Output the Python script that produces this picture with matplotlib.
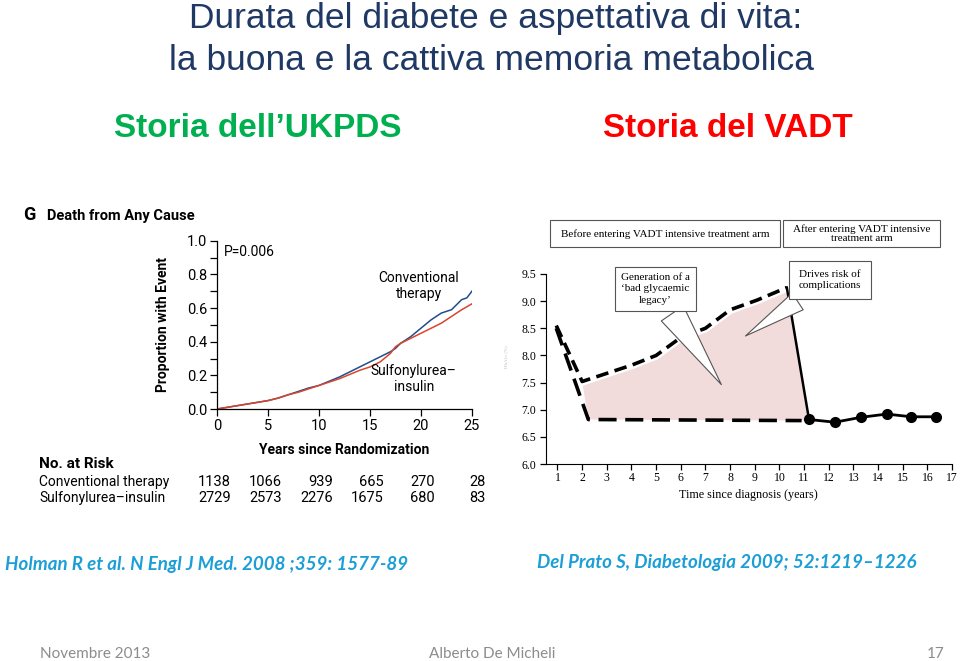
import numpy as np
import matplotlib as mpl
mpl.use('Agg')
import matplotlib.pyplot as plt
from matplotlib.ticker import MultipleLocator
from matplotlib.patches import Rectangle

# --- UKPDS: death from any cause ---
years_conv = [0, 1, 2, 3, 4, 5, 6, 7, 8, 9, 10, 11, 12, 13, 14, 15, 16, 17, 17.5,
              18, 19, 20, 21, 22, 23, 23.5, 24, 24.5, 25]
prop_conv = [0, 0.01, 0.02, 0.03, 0.04, 0.05, 0.065, 0.085, 0.105, 0.125, 0.14, 0.165,
             0.19, 0.22, 0.25, 0.28, 0.31, 0.34, 0.36, 0.39, 0.43, 0.48, 0.53, 0.57,
             0.59, 0.62, 0.65, 0.66, 0.70]
years_su = [0, 1, 2, 3, 4, 5, 6, 7, 8, 9, 10, 11, 12, 13, 14, 15, 16, 17, 17.5,
            18, 19, 20, 21, 22, 23, 24, 25]
prop_su = [0, 0.01, 0.02, 0.03, 0.04, 0.05, 0.065, 0.085, 0.10, 0.12, 0.14, 0.16,
           0.18, 0.205, 0.23, 0.25, 0.28, 0.33, 0.37, 0.39, 0.42, 0.45, 0.48, 0.51,
           0.55, 0.59, 0.625]
risk_years = [0, 5, 10, 15, 20, 25]
risk_conv = [1138, 1066, 939, 665, 270, 28]
risk_su = [2729, 2573, 2276, 1675, 680, 83]

# --- VADT: HbA1c history ---
bad_x = [0.95, 2, 4, 5, 6, 7, 8, 9.1, 10.3]
bad_y = [8.55, 7.52, 7.82, 8.0, 8.33, 8.5, 8.84, 9.02, 9.25]
drop_x = [10.3, 11.2]
drop_y = [9.25, 6.82]
good_x = [0.95, 2.25, 10.9]
good_y = [8.5, 6.82, 6.8]
vadt_x = [11.2, 12.25, 13.3, 14.35, 15.35, 16.35]
vadt_y = [6.82, 6.77, 6.86, 6.92, 6.87, 6.87]

fig = plt.figure(figsize=(9.6, 6.61), dpi=100)
fig.patch.set_facecolor('white')

# titles
navy = '#1f3864'
fig.text(0.516, 0.972, 'Durata del diabete e aspettativa di vita:', ha='center', va='center',
         fontsize=25.5, color=navy, family='Liberation Sans')
fig.text(0.512, 0.908, 'la buona e la cattiva memoria metabolica', ha='center', va='center',
         fontsize=25.5, color=navy, family='Liberation Sans')
fig.text(0.268, 0.805, 'Storia dell\u2019UKPDS', ha='center', va='center',
         fontsize=24, color='#00b050', weight='bold', family='Liberation Sans')
fig.text(0.758, 0.805, 'Storia del VADT', ha='center', va='center',
         fontsize=24, color='#ff0000', weight='bold', family='Liberation Sans')

# ---------------- left panel ----------------
sans = 'Roboto'
ax1 = fig.add_axes([0.226, 0.3812, 0.2656, 0.2547])
ax1.plot(years_conv, prop_conv, color='#1f4e8c', lw=1.1)
ax1.plot(years_su, prop_su, color='#d9452b', lw=1.1)
ax1.set_xlim(0, 25)
ax1.set_ylim(0, 1.0)
ax1.spines['top'].set_visible(False)
ax1.spines['right'].set_visible(False)
for s in ['left', 'bottom']:
    ax1.spines[s].set_linewidth(0.9)
ax1.set_xticks(risk_years)
ax1.yaxis.set_major_locator(MultipleLocator(0.2))
ax1.yaxis.set_minor_locator(MultipleLocator(0.1))
ax1.yaxis.set_major_formatter(mpl.ticker.FormatStrFormatter('%.1f'))
ax1.tick_params(axis='both', which='major', length=5, width=0.9, labelsize=10.5, pad=2)
ax1.tick_params(axis='y', which='minor', length=5, width=0.9)
for lab in ax1.get_xticklabels() + ax1.get_yticklabels():
    lab.set_family(sans)
ax1.text(0.5, -0.243, 'Years since Randomization', transform=ax1.transAxes, fontsize=10,
         weight='bold', ha='center', va='center', family=sans)
ax1.text(-0.212, 0.5, 'Proportion with Event', transform=ax1.transAxes, fontsize=10,
         weight='bold', ha='center', va='center', rotation=90, family=sans)
ax1.text(0.7, 0.93, 'P=0.006', fontsize=10, va='center', family=sans)
ax1.text(19.8, 0.73, 'Conventional\ntherapy', fontsize=10, ha='center', va='center',
         family=sans, linespacing=1.15)
ax1.text(19.3, 0.18, 'Sulfonylurea\u2013\ninsulin', fontsize=10, ha='center', va='center',
         family=sans, linespacing=1.15)

fig.text(0.024, 0.674, 'G', fontsize=13, weight='bold', va='center', family=sans)
fig.text(0.049, 0.673, 'Death from Any Cause', fontsize=10.5, weight='bold', va='center', family=sans)
fig.text(0.041, 0.298, 'No. at Risk', fontsize=11, weight='bold', va='center', family=sans)
fig.text(0.041, 0.271, 'Conventional therapy', fontsize=10, va='center', family=sans)
fig.text(0.041, 0.247, 'Sulfonylurea\u2013insulin', fontsize=10, va='center', family=sans)
tr = mpl.transforms.blended_transform_factory(ax1.transData, fig.transFigure)
for t, a, b in zip(risk_years, risk_conv, risk_su):
    ax1.text(t + 1.35, 0.271, str(a), transform=tr, ha='right', va='center', fontsize=10.5, family=sans)
    ax1.text(t + 1.35, 0.247, str(b), transform=tr, ha='right', va='center', fontsize=10.5, family=sans)

# ---------------- right panel ----------------
serif = 'Liberation Serif'
ax2 = fig.add_axes([0.5684, 0.298, 0.4233, 0.2875])
poly_x = bad_x[1:] + drop_x[1:] + good_x[::-1][:-1]
poly_y = bad_y[1:] + drop_y[1:] + good_y[::-1][:-1]
ax2.fill(poly_x, poly_y, color='#f2dcdb', lw=0, zorder=1)
ax2.plot(bad_x, bad_y, color='white', lw=6, zorder=2, solid_capstyle='butt')
ax2.plot(bad_x, bad_y, color='black', lw=2.6, ls=(0, (3.5, 1.8)), zorder=3)
ax2.plot(good_x, good_y, color='black', lw=2.6, ls=(0, (5, 2.4)), zorder=3)
ax2.plot(drop_x, drop_y, color='black', lw=1.8, zorder=3)
ax2.plot(vadt_x, vadt_y, color='black', lw=2, marker='o', ms=7, zorder=4)
ax2.set_xlim(0.52, 17)
ax2.set_ylim(6.0, 9.5)
ax2.spines['top'].set_visible(False)
ax2.spines['right'].set_visible(False)
ax2.set_xticks(range(1, 18))
ax2.set_yticks(np.arange(6.0, 9.51, 0.5))
ax2.yaxis.set_major_formatter(mpl.ticker.FormatStrFormatter('%.1f'))
ax2.tick_params(axis='both', length=4, width=0.9, labelsize=8.5, pad=3)
ax2.tick_params(axis='x', pad=2)
for lab in ax2.get_xticklabels() + ax2.get_yticklabels():
    lab.set_family(serif)
ax2.set_xlabel('Time since diagnosis (years)', fontsize=8.7, family=serif, labelpad=3)
fig.text(0.527, 0.46, 'HbA1c (%)', rotation=90, fontsize=3.5, color='#bbbbbb',
         ha='center', va='center', family=serif)

# header boxes
for x0, w in [(0.5729, 0.2396), (0.8156, 0.1635)]:
    fig.patches.append(Rectangle((x0, 0.6263), w, 0.0408, transform=fig.transFigure,
                                 fc='white', ec='#555555', lw=0.8))
fig.text(0.6927, 0.6465, 'Before entering VADT intensive treatment arm', ha='center', va='center',
         fontsize=8, family=serif)
fig.text(0.8974, 0.6465, 'After entering VADT intensive\ntreatment arm', ha='center', va='center',
         fontsize=8, family=serif, linespacing=1.05)

box = dict(boxstyle='square,pad=0.55', fc='white', ec='#555555', lw=0.8)
ax2.annotate('Generation of a\n\u2018bad glycaemic\nlegacy\u2019', xy=(7.71, 7.42), xytext=(0.6828, 0.5628),
             textcoords='figure fraction', ha='center', va='center', fontsize=8, family=serif,
             linespacing=1.3, bbox=box, zorder=5,
             arrowprops=dict(arrowstyle='wedge,tail_width=2.4,shrink_factor=0.5', fc='white',
                             ec='#555555', lw=0.8))
ax2.annotate('Drives risk of\ncomplications', xy=(8.53, 8.33), xytext=(0.8646, 0.5764),
             textcoords='figure fraction', ha='center', va='center', fontsize=8, family=serif,
             linespacing=1.3, bbox=dict(boxstyle='square,pad=0.85', fc='white', ec='#555555', lw=0.8),
             zorder=5,
             arrowprops=dict(arrowstyle='wedge,tail_width=1.8,shrink_factor=0.5', fc='white',
                             ec='#555555', lw=0.8))

# citations and footer
cite = '#1c9fd6'
fig.text(0.005, 0.146, 'Holman R et al. N Engl J Med. 2008 ;359: 1577-89', fontsize=13.5,
         color=cite, style='italic', weight='bold', family='Lato', va='center')
fig.text(0.559, 0.149, 'Del Prato S, Diabetologia 2009; 52:1219\u20131226', fontsize=13.5,
         color=cite, style='italic', weight='bold', family='Lato', va='center')
fig.text(0.042, 0.011, 'Novembre 2013', fontsize=11, color='#8c8c8c', family='Lato', va='center')
fig.text(0.513, 0.011, 'Alberto De Micheli', fontsize=11, color='#8c8c8c', family='Lato',
         ha='center', va='center')
fig.text(0.984, 0.011, '17', fontsize=11, color='#8c8c8c', family='Lato', ha='right', va='center')

plt.savefig('out.png', dpi=100, facecolor='white')
